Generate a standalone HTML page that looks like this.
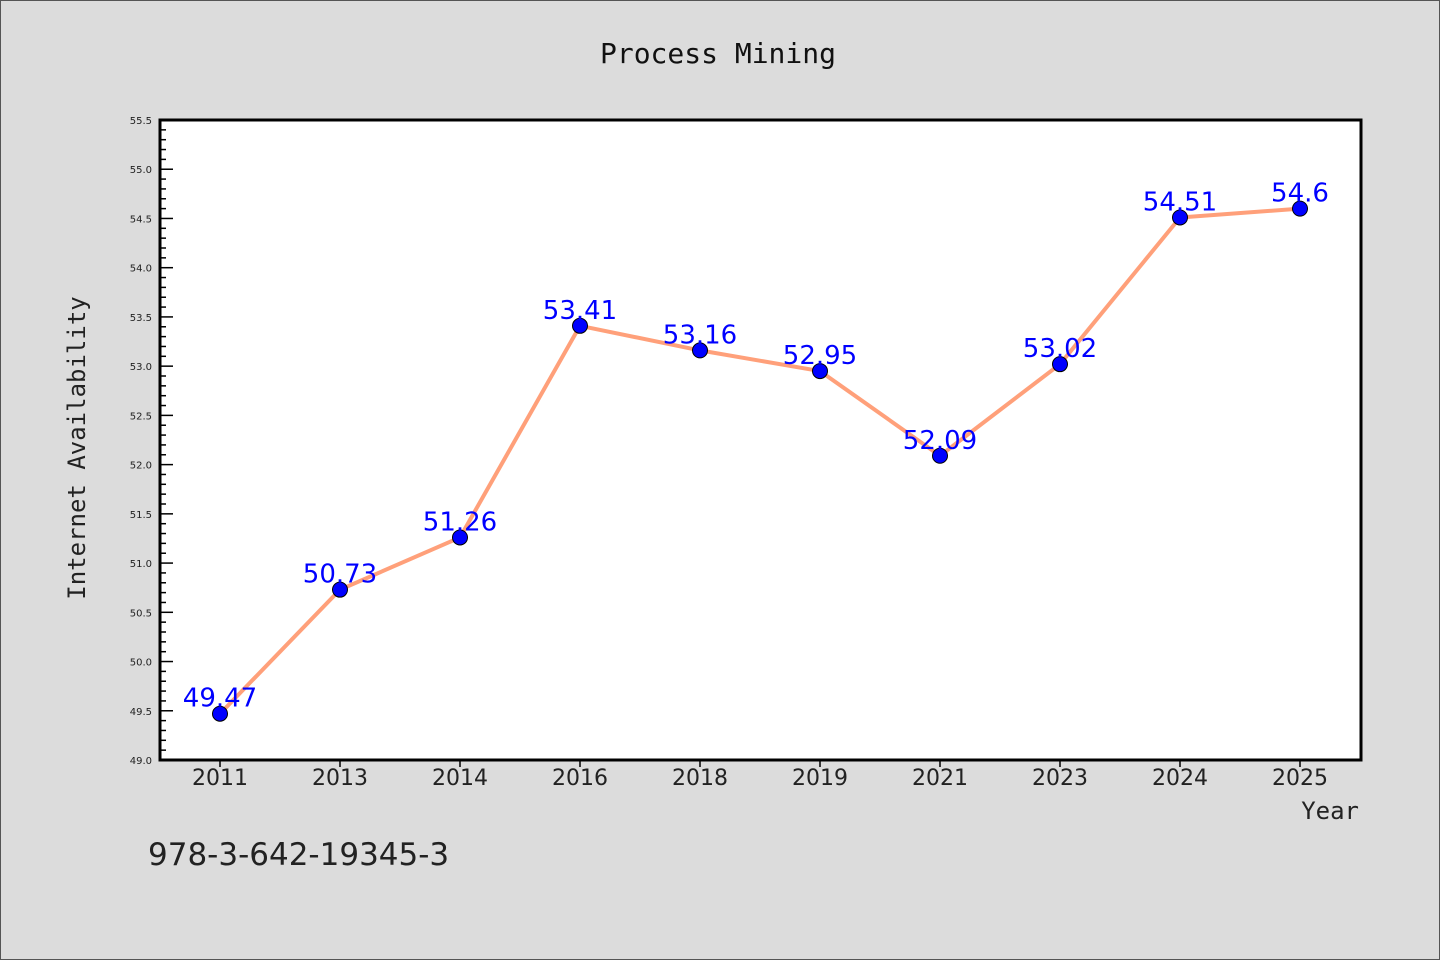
<!DOCTYPE html>
<html><head><meta charset="utf-8"><style>
html,body{margin:0;padding:0;background:#dcdcdc;}
svg{display:block;font-family:"DejaVu Sans","Liberation Sans",sans-serif;}
</style></head><body>
<svg id="chart" width="1440" height="960" viewBox="0 0 1440 960">
<rect x="0.5" y="0.5" width="1439" height="959" fill="#dcdcdc" stroke="#555" stroke-width="1"/>
<text x="718" y="63" text-anchor="middle" font-family="DejaVu Sans Mono, monospace" font-size="28" fill="#111">Process Mining</text>
<rect x="160" y="120" width="1201" height="640" fill="#fff"/>
<g id="grid"></g>
<g id="marks"></g>
<rect x="160" y="120" width="1201" height="640" fill="none" stroke="#000" stroke-width="3"/>
<text transform="translate(85,448) rotate(-90)" text-anchor="middle" font-family="DejaVu Sans Mono, monospace" font-size="24" fill="#222">Internet Availability</text>
<text x="1359" y="819" text-anchor="end" font-family="DejaVu Sans Mono, monospace" font-size="24" fill="#222">Year</text>
<text x="148" y="865" font-size="31" fill="#222">978-3-642-19345-3</text>
</svg>
<script>
const categories=["2011","2013","2014","2016","2018","2019","2021","2023","2024","2025"];
const values=[49.47,50.73,51.26,53.41,53.16,52.95,52.09,53.02,54.51,54.6];
const yTickLabels=["49.0","49.5","50.0","50.5","51.0","51.5","52.0","52.5","53.0","53.5","54.0","54.5","55.0","55.5"];
const NS="http://www.w3.org/2000/svg";
const L=160,R=1360,T=120,B=760,YMIN=49,YMAX=55.5;
const band=(R-L)/categories.length;
function x(i){return L+band*(i+0.5);}
function y(v){return B-(v-YMIN)/(YMAX-YMIN)*(B-T);}
function mk(tag,attrs,parent){const e=document.createElementNS(NS,tag);for(const k in attrs)e.setAttribute(k,attrs[k]);parent.appendChild(e);return e;}
const grid=document.getElementById('grid'),marks=document.getElementById('marks');
// y ticks
for(let k=0;k<=65;k++){const v=YMIN+k*0.1;const yy=y(v);const major=k%5===0;
 const t=mk('line',{x1:L,x2:L+(major?13:6),y1:yy,y2:yy,stroke:'#000','stroke-width':1.5},grid);
 
 }
yTickLabels.forEach(s=>{const tx=mk('text',{x:L-8,y:y(parseFloat(s))+4,'text-anchor':'end','font-size':10,fill:'#222'},grid);tx.textContent=s;
 
 });
categories.forEach((c,i)=>{const t=mk('line',{x1:x(i),x2:x(i),y1:B,y2:B+7,stroke:'#000','stroke-width':1.5},grid);
 
 
 const tx=mk('text',{x:x(i),y:B+25,'text-anchor':'middle','font-size':22,fill:'#222'},grid);tx.textContent=c;
 
 });
const pl=mk('polyline',{points:values.map((v,i)=>x(i)+','+y(v)).join(' '),fill:'none',stroke:'#FFA07A','stroke-width':4,'stroke-linejoin':'round'},marks);


values.forEach((v,i)=>{const c=mk('circle',{cx:x(i),cy:y(v),r:7.5,fill:'#0000ff',stroke:'#000','stroke-width':1},marks);
 
 
 const tx=mk('text',{x:x(i),y:y(v)-7,'text-anchor':'middle','font-size':26,fill:'#0000ff'},marks);tx.textContent=String(v);
 
 });
</script>
</body></html>
